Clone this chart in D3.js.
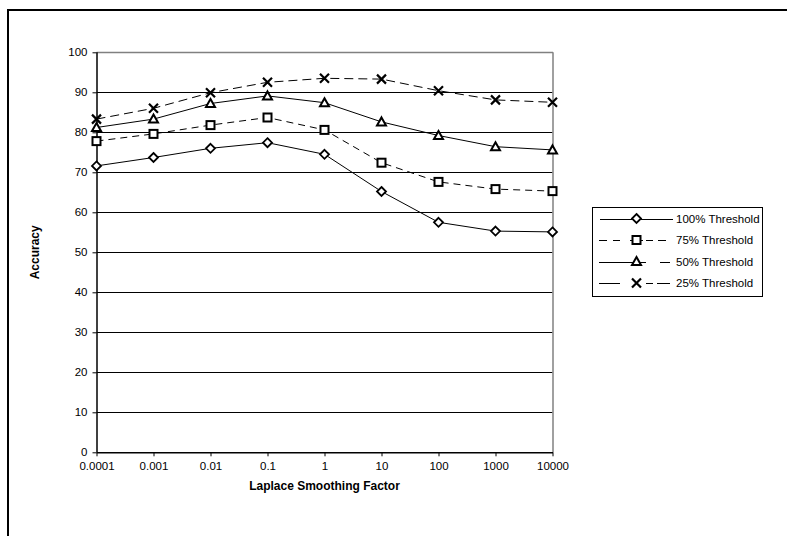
<!DOCTYPE html>
<html><head><meta charset="utf-8">
<script src="https://cdn.jsdelivr.net/npm/d3@7"></script>
<style>body{margin:0;background:#fff}svg{display:block}text{font-family:"Liberation Sans",Arial,sans-serif}</style>
</head><body>
<script>
const categories = ["0.0001","0.001","0.01","0.1","1","10","100","1000","10000"];
const seriesNames = ["100% Threshold","75% Threshold","50% Threshold","25% Threshold"];
const t100 = [71.6,73.7,76.0,77.4,74.5,65.2,57.5,55.3,55.1];
const t75  = [77.8,79.6,81.8,83.7,80.6,72.4,67.6,65.8,65.3];
const t50  = [81.2,83.3,87.2,89.1,87.4,82.6,79.2,76.4,75.6];
const t25  = [83.3,86.0,89.9,92.5,93.5,93.3,90.4,88.1,87.5];
const yTicks = [0,10,20,30,40,50,60,70,80,90,100];

const W=787,H=536;
const svg=d3.select("body").append("svg").attr("width",W).attr("height",H);
svg.append("rect").attr("x",0).attr("y",0).attr("width",W).attr("height",H).attr("fill","#fff");
// outer border
svg.append("rect").attr("x",8).attr("y",10).attr("width",W+20).attr("height",H+20)
  .attr("fill","none").attr("stroke","#000").attr("stroke-width",2);

const L=96.5,R=552.5,T=52.3,B=452.3;
const x=d3.scalePoint().domain(categories).range([L,R]);
const y=d3.scaleLinear().domain([0,100]).range([B,T]);

// gridlines
svg.append("g").selectAll("line").data(yTicks.filter(d=>d>0&&d<100)).join("line")
  .attr("x1",L).attr("x2",R).attr("y1",d=>Math.round(y(d))+0.5).attr("y2",d=>Math.round(y(d))+0.5)
  .attr("stroke","#000").attr("stroke-width",1);
// plot frame top/right gray
svg.append("line").attr("x1",L).attr("x2",R+0.5).attr("y1",Math.round(T)+0.5).attr("y2",Math.round(T)+0.5).attr("stroke","#808080").attr("stroke-width",1.5);
svg.append("line").attr("x1",R+0.5).attr("x2",R+0.5).attr("y1",T).attr("y2",B).attr("stroke","#808080").attr("stroke-width",1.5);

// axes
const yAxis=d3.axisLeft(y).tickValues(yTicks).tickSize(4).tickPadding(5);
const gy=svg.append("g").attr("transform",`translate(${L},0)`).call(yAxis);
const xAxis=d3.axisBottom(x).tickSize(4).tickPadding(6);
const gx=svg.append("g").attr("transform",`translate(0,${B})`).call(xAxis);
[gx,gy].forEach(g=>{
  g.selectAll(".domain").attr("stroke","#000").attr("stroke-width",1.5);
  g.selectAll(".tick line").attr("stroke","#000");
  g.selectAll("text").attr("font-size",11.5).attr("fill","#000").attr("font-family","Liberation Sans, Arial, sans-serif");
});
gx.select(".domain").attr("d",`M${L},0.5H${R+0.5}`);
gy.select(".domain").attr("d",`M0.5,${B}V${T}`);

// axis titles
svg.append("text").attr("x",(L+R)/2).attr("y",490).attr("text-anchor","middle")
  .attr("font-size",12).attr("font-weight","bold").text("Laplace Smoothing Factor");
svg.append("text").attr("transform",`translate(39,${(T+B)/2}) rotate(-90)`).attr("text-anchor","middle")
  .attr("font-size",12).attr("font-weight","bold").text("Accuracy");

const series=[
  {name:seriesNames[0],values:t100,dash:null,marker:"diamond",leg:[[600,673]]},
  {name:seriesNames[1],values:t75,dash:"7,5",marker:"square",leg:[[599,607],[613,620],[630,643],[646,653],[658,666]]},
  {name:seriesNames[2],values:t50,dash:null,marker:"triangle",leg:[[599,646],[660,670]]},
  {name:seriesNames[3],values:t25,dash:"9,5",marker:"cross",leg:[[599,620],[646,653],[657,670]]}
];

function drawMarker(g,type,cx,cy){
  if(type==="diamond"){
    g.append("path").attr("d",`M${cx},${cy-4.5}L${cx+4.5},${cy}L${cx},${cy+4.5}L${cx-4.5},${cy}Z`)
      .attr("fill","#fff").attr("stroke","#000").attr("stroke-width",1.8);
  }else if(type==="square"){
    g.append("rect").attr("x",cx-4).attr("y",cy-4).attr("width",8).attr("height",8)
      .attr("fill","#fff").attr("stroke","#000").attr("stroke-width",2);
  }else if(type==="triangle"){
    g.append("path").attr("d",`M${cx},${cy-4.5}L${cx+4.5},${cy+3.5}L${cx-4.5},${cy+3.5}Z`)
      .attr("fill","#fff").attr("stroke","#000").attr("stroke-width",2);
  }else{
    g.append("path").attr("d",`M${cx-4.5},${cy-4.5}L${cx+4.5},${cy+4.5}M${cx+4.5},${cy-4.5}L${cx-4.5},${cy+4.5}`)
      .attr("fill","none").attr("stroke","#000").attr("stroke-width",2.2);
  }
}

const line=d3.line().x((d,i)=>x(categories[i])).y(d=>y(d));
series.forEach(s=>{
  svg.append("path").datum(s.values).attr("d",line).attr("fill","none")
    .attr("stroke","#000").attr("stroke-width",1).attr("stroke-dasharray",s.dash);
});
series.forEach(s=>{
  const g=svg.append("g");
  s.values.forEach((v,i)=>drawMarker(g,s.marker,x(categories[i]),y(v)));
});

// legend
const lg=svg.append("g");
lg.append("rect").attr("x",592.5).attr("y",207.5).attr("width",170).attr("height",89)
  .attr("fill","#fff").attr("stroke","#000").attr("stroke-width",1);
const rowY=[218.5,240,261.5,283];
series.forEach((s,i)=>{
  const yy=Math.round(rowY[i])+0.5;
  s.leg.forEach(seg=>{
    lg.append("line").attr("x1",seg[0]).attr("x2",seg[1]).attr("y1",yy).attr("y2",yy)
      .attr("stroke","#000").attr("stroke-width",1);
  });
  drawMarker(lg,s.marker,636.5,rowY[i]);
  lg.append("text").attr("x",676).attr("y",rowY[i]+4).attr("font-size",11.5).text(s.name);
});
</script>
</body></html>
